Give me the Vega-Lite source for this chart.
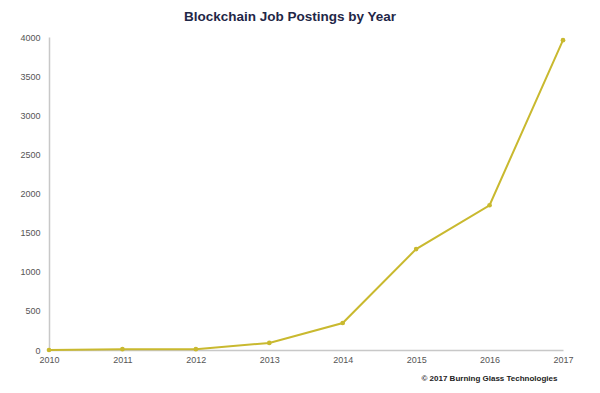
{
  "$schema": "https://vega.github.io/schema/vega-lite/v6.json",
  "width": 514,
  "height": 313,
  "autosize": "none",
  "padding": {"left": 49, "top": 37, "right": 37, "bottom": 43},
  "background": "white",
  "title": {
    "text": "Blockchain Job Postings by Year",
    "font": "Liberation Sans",
    "fontSize": 13.5,
    "fontWeight": "bold",
    "color": "#1f2747",
    "anchor": "middle",
    "dx": -16,
    "offset": 10
  },
  "data": {
    "values": [
      {"year": "2010", "postings": 0},
      {"year": "2011", "postings": 10},
      {"year": "2012", "postings": 10},
      {"year": "2013", "postings": 90},
      {"year": "2014", "postings": 345},
      {"year": "2015", "postings": 1290},
      {"year": "2016", "postings": 1850},
      {"year": "2017", "postings": 3960}
    ]
  },
  "config": {
    "view": {"stroke": null},
    "axis": {"labelFont": "Liberation Sans", "labelColor": "#555555", "labelFontSize": 9, "grid": false, "ticks": false, "domainColor": "#c8c8c8", "domainWidth": 1.5}
  },
  "mark": {"type": "line", "color": "#c9b92f", "strokeWidth": 2, "point": {"filled": true, "size": 22, "color": "#c9b92f"}},
  "encoding": {
    "x": {
      "field": "year",
      "type": "ordinal",
      "scale": {"type": "point", "padding": 0},
      "axis": {
        "labelAngle": 0,
        "labelPadding": 5,
        "title": "© 2017 Burning Glass Technologies",
        "titleFont": "Liberation Sans",
        "titleFontSize": 8,
        "titleFontWeight": "bold",
        "titleColor": "#222222",
        "titleAnchor": "end",
        "titleAlign": "right",
        "titlePadding": 10,
        "titleX": 508
      }
    },
    "y": {
      "field": "postings",
      "type": "quantitative",
      "scale": {"domain": [0, 4000]},
      "axis": {"values": [0, 500, 1000, 1500, 2000, 2500, 3000, 3500, 4000], "format": "d", "title": null, "labelPadding": 9}
    }
  }
}
